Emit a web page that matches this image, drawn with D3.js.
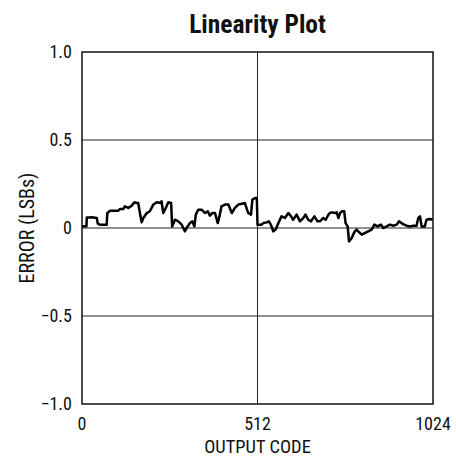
<!DOCTYPE html>
<html><head><meta charset="utf-8">
<script src="https://cdn.jsdelivr.net/npm/d3@7"></script>
<style>
html,body{margin:0;padding:0;background:#fff;}
text{font-family:"Liberation Sans Narrow","Roboto Condensed",Roboto,"Liberation Sans",Arial,sans-serif;fill:#111;}
</style></head>
<body><svg id="c" width="456" height="459"></svg>
<script>
const codes = [0,13,14,23,28,43,46,52,72,74,82,106,111,121,125,135,145,153,159,164,169,174,179,189,198,208,218,228,232,237,242,252,260,263,271,281,291,300,308,315,322,328,332,339,349,359,367,373,380,388,396,401,407,417,427,437,446,456,466,475,485,493,497,505,510,512,524,529,539,545,551,558,565,573,582,592,602,610,616,626,636,646,652,660,668,678,687,694,704,711,719,723,730,738,743,748,753,759,765,769,775,779,787,791,796,801,806,816,826,835,845,853,862,872,879,889,898,908,918,925,932,940,947,957,966,976,981,986,991,1000,1005,1015,1023];
const errors = [0.01,0.01,0.06,0.06,0.061,0.057,0.025,0.019,0.019,0.085,0.098,0.098,0.108,0.108,0.123,0.114,0.127,0.146,0.142,0.142,0.085,0.032,0.057,0.085,0.095,0.133,0.146,0.142,0.152,0.085,0.104,0.146,0.142,0.009,0.047,0.038,0.019,-0.019,0.009,0.028,0.038,0.009,0.076,0.104,0.104,0.085,0.095,0.07,0.085,0.085,0.028,0.066,0.123,0.133,0.133,0.085,0.114,0.133,0.138,0.142,0.085,0.076,0.161,0.17,0.17,0.019,0.019,0.028,0.032,0.038,0.019,-0.019,-0.009,0.028,0.066,0.057,0.085,0.066,0.047,0.076,0.038,0.057,0.076,0.047,0.038,0.066,0.038,0.038,0.057,0.047,0.076,0.085,0.089,0.085,0.089,0.057,0.085,0.095,0.095,0.028,0.009,-0.076,-0.057,-0.038,-0.019,-0.009,-0.019,-0.038,-0.028,-0.019,-0.009,0.019,0.009,0.019,0,0.009,0.019,0.013,0.019,0.038,0.028,0.019,0.013,0.009,0.013,0.013,0.057,0.066,0.009,0.009,0.047,0.051,0.047];
const yTicks = [1.0,0.5,0,-0.5,-1.0];
const yTickLabels = ["1.0","0.5","0","\u22120.5","\u22121.0"];
const xTicks = [0,512,1024];
const xTickLabels = ["0","512","1024"];
const title = "Linearity Plot";
const xTitle = "OUTPUT CODE";
const yTitle = "ERROR (LSBs)";

const svg = d3.select("#c");
const L=82, R=433, T=52, B=404;
const x = d3.scaleLinear().domain([0,1024]).range([L,R]);
const y = d3.scaleLinear().domain([-1,1]).range([B,T]);

const g = svg.append("g");
g.selectAll("line.h").data(yTicks.filter(v=>v>-1&&v<1)).join("line")
  .attr("x1",L).attr("x2",R).attr("y1",d=>y(d)).attr("y2",d=>y(d))
  .attr("stroke","#222").attr("stroke-width",1);
g.selectAll("line.v").data(xTicks.filter(v=>v>0&&v<1024)).join("line")
  .attr("y1",T).attr("y2",B).attr("x1",d=>x(d)).attr("x2",d=>x(d))
  .attr("stroke","#222").attr("stroke-width",1);

svg.append("rect").attr("x",L).attr("y",T).attr("width",R-L).attr("height",B-T)
  .attr("fill","none").attr("stroke","#111").attr("stroke-width",1.5);

const pts = codes.map((c,i)=>[c,errors[i]]);
svg.append("path").datum(pts)
  .attr("d",d3.line().x(d=>x(d[0])).y(d=>y(d[1])))
  .attr("fill","none").attr("stroke","#000").attr("stroke-width",2.5)
  .attr("stroke-linejoin","round");

svg.selectAll("text.yt").data(yTicks).join("text")
  .attr("x",L-10).attr("y",d=>y(d)).attr("dy","0.36em")
  .attr("text-anchor","end").attr("font-size",18)
  .text((d,i)=>yTickLabels[i]);
svg.selectAll("text.xt").data(xTicks).join("text")
  .attr("x",d=>x(d)).attr("y",430)
  .attr("text-anchor","middle").attr("font-size",18)
  .text((d,i)=>xTickLabels[i]);

svg.append("text").attr("x",(L+R)/2).attr("y",453).attr("text-anchor","middle")
  .attr("font-size",18.5).text(xTitle);
svg.append("text").attr("transform",`translate(34,${(T+B)/2}) rotate(-90)`)
  .attr("text-anchor","middle").attr("font-size",20).text(yTitle);
svg.append("text").attr("x",(L+R)/2).attr("y",33).attr("text-anchor","middle")
  .attr("font-size",25.5).attr("font-weight","bold").text(title);
</script></body></html>
